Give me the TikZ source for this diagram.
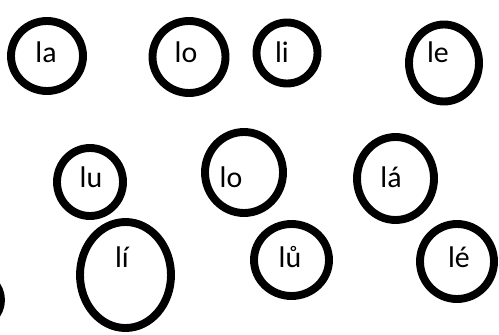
\documentclass[tikz,border=0pt]{standalone}
\usepackage{fontspec}
\setmainfont{Carlito}

\begin{document}
\begin{tikzpicture}[x=0.02cm,y=-0.02cm,font=\fontsize{17}{20}\selectfont,
  ring/.style={line width=4.5pt},
  syllable/.style={anchor=base,inner sep=0pt}]
\useasboundingbox (0,0) rectangle (499,334);
\clip (0,0) rectangle (499,334);
% rings
\foreach \cx/\cy/\rx/\ry in {47/56/36/35, 189/57/36.5/36, 287/53/30.5/30.5,
  444/63/35/38.5, 90/182/33/34, 244/172.5/39/40.5, 395.5/178.5/38.5/41.5,
  125.5/275/45.5/53, 291.5/260/37.5/36, 457/261.5/37/37.5, -25/300/26/26} {
  \draw[ring] (\cx,\cy) ellipse [x radius=\rx, y radius=\ry];
}
% syllables
\node[syllable] (la) at (46,63) {la};
\node[syllable] (lo) at (186,63) {lo};
\node[syllable] (li) at (282,63) {li};
\node[syllable] (le) at (438,63) {le};
\node[syllable] (lu) at (91,187) {lu};
\node[syllable] (lo2) at (231,187) {lo};
\node[syllable] (la2) at (391,187) {lá};
\node[syllable] (li2) at (122,267) {lí};
\node[syllable] (lu2) at (290,267) {lů};
\node[syllable] (le2) at (459,267) {lé};
\end{tikzpicture}
\end{document}
